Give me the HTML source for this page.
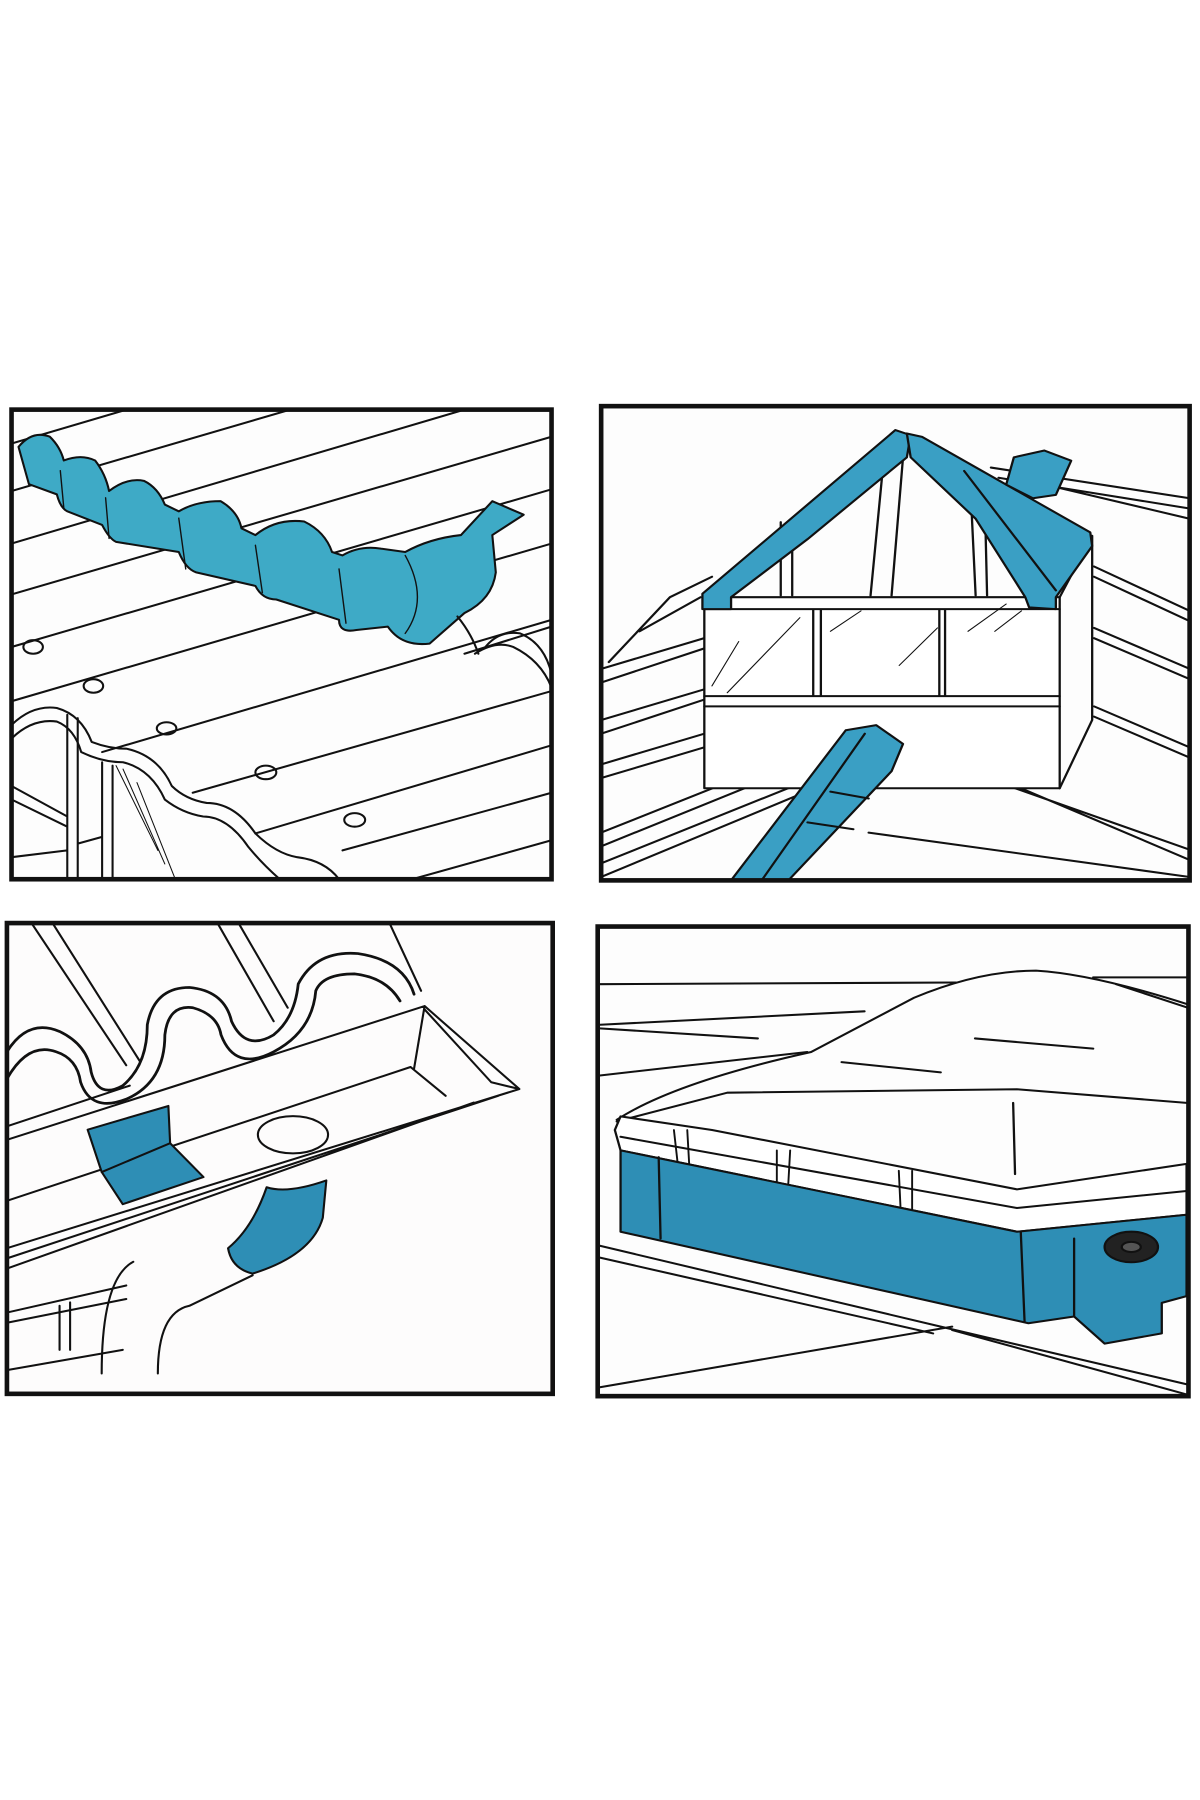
<!DOCTYPE html>
<html><head><meta charset="utf-8"><style>
html,body{margin:0;padding:0;background:#fff;width:1200px;height:1800px;overflow:hidden}
svg{display:block}
</style></head><body>
<svg width="1200" height="1800" viewBox="0 0 1040 1560" xmlns="http://www.w3.org/2000/svg">
<rect width="1040" height="1560" fill="#fff"/>

<!-- Panel 1 -->
<svg x="10" y="355" width="468" height="407" viewBox="0 0 1550 1385" preserveAspectRatio="none">
<rect width="1550" height="1385" fill="#fdfdfd"/>
<g fill="none" stroke="#111" stroke-width="6" stroke-linejoin="round" stroke-linecap="round">
<path d="M0,100 L330,0 M0,240 L800,0 M0,395 L1300,0 M0,545 L1550,80 M0,700 L1550,235 M0,860 L1550,395 M260,1010 L1550,620 M1300,720 L1550,640 M520,1130 L1550,830 M700,1250 L1550,990 M950,1300 L1550,1130 M1150,1385 L1550,1270"/>
<path fill="#3eaac6" d="M20,110 Q60,60 110,80 Q140,110 150,150 Q200,130 240,150 Q270,190 280,240 Q330,200 380,210 Q420,230 440,280 L480,300 Q530,270 600,270 Q650,300 660,350 L700,370 Q760,320 840,330 Q900,360 920,420 L950,430 Q1000,400 1060,410 L1130,420 Q1200,380 1290,370 L1380,270 L1470,310 L1380,370 L1390,480 Q1380,560 1300,600 L1200,690 Q1120,700 1080,640 L990,650 Q940,660 940,620 L760,560 Q720,560 700,520 L530,480 Q500,470 480,420 L300,390 Q280,380 260,340 L160,300 Q140,290 130,250 L50,220 Z"/>
<path stroke-width="4" d="M140,180 L150,290 M270,260 L280,380 M480,320 L500,470 M700,400 L720,540 M940,470 L960,630 M1130,430 Q1200,560 1130,660"/>
<path d="M0,930 Q60,870 130,880 Q200,900 230,980 Q280,1000 330,1000 Q420,1020 460,1110 Q500,1150 560,1160 Q640,1160 700,1250 Q760,1310 820,1320 Q900,1330 940,1385"/>
<path d="M0,970 Q60,910 130,920 Q180,940 200,1010 Q260,1040 320,1040 Q400,1060 440,1150 Q490,1190 550,1200 Q620,1200 680,1290 Q720,1340 770,1385"/>
<path d="M1280,610 Q1320,660 1340,720 M1360,700 Q1400,650 1460,660 Q1530,690 1550,780 M1330,720 Q1390,680 1440,700 Q1520,740 1550,820"/>
<path d="M160,900 L160,1385 M190,910 L190,1385 M260,1040 L260,1385 M290,1050 L290,1385 M0,1110 L160,1200 M0,1150 L160,1230 M0,1320 L160,1300 M190,1280 L260,1260"/>
<path stroke-width="3" d="M300,1050 L420,1300 M320,1060 L440,1340 M360,1100 L470,1385"/>
<ellipse cx="62" cy="700" rx="28" ry="20"/><ellipse cx="235" cy="815" rx="28" ry="20"/><ellipse cx="445" cy="940" rx="28" ry="18"/><ellipse cx="730" cy="1070" rx="30" ry="20"/><ellipse cx="985" cy="1210" rx="30" ry="20"/>
</g>
</svg>
<rect x="10" y="355" width="468" height="407" fill="none" stroke="#111" stroke-width="4"/>

<!-- Panel 2 -->
<svg x="521" y="352" width="510" height="411" viewBox="0 0 1540 1390" preserveAspectRatio="none">
<rect width="1540" height="1390" fill="#fdfdfd"/>
<g fill="none" stroke="#111" stroke-width="6" stroke-linejoin="round" stroke-linecap="round">
<path d="M0,770 L270,680 M0,810 L270,710 M0,920 L270,830 M0,960 L270,860 M0,1050 L270,960 M0,1090 L270,1000 M180,560 L290,500 M20,750 L180,560 M100,660 L260,560"/>
<path d="M0,1250 L650,960 M0,1290 L640,1000 M0,1340 L600,1070 M0,1380 L580,1110 M720,940 L1540,1330 M780,1000 L1540,1300 M700,1250 L1540,1380"/>
<path d="M1020,180 L1540,270 M1040,210 L1540,300 M1200,240 L1540,330 M1290,470 L1540,600 M1290,500 L1540,630 M1290,650 L1540,770 M1290,680 L1540,800 M1290,880 L1540,1000 M1290,910 L1540,1030"/>
<path fill="#fff" d="M270,560 L1200,560 L1200,1120 L270,1120 Z"/>
<path d="M1200,560 L1285,380 L1285,920 L1200,1120 M270,595 L1200,595 M270,850 L1200,850 M270,880 L1200,880 M555,595 L555,850 M575,595 L575,850 M885,595 L885,850 M900,595 L900,850"/>
<path stroke-width="3" d="M290,820 L360,690 M330,840 L520,620 M600,660 L680,600 M780,760 L880,650 M960,660 L1060,580 M1030,660 L1100,600"/>
<path d="M470,340 L470,555 M500,340 L500,555 M740,150 L705,555 M790,150 L760,555 M970,320 L980,555 M1005,320 L1010,555"/>
<path fill="#3a9fc4" d="M265,550 L770,70 L810,85 L800,150 L540,390 L340,560 L340,595 L265,595 Z"/>
<path fill="#3a9fc4" d="M800,80 L840,90 L1280,370 L1285,410 L1190,560 L1190,595 L1120,590 L1110,560 L980,330 L810,150 Z"/>
<path d="M950,190 L1190,540"/>
<path fill="#3a9fc4" d="M1080,150 L1160,130 L1230,160 L1190,260 L1130,270 L1060,230 Z"/>
<path fill="#3a9fc4" d="M340,1390 L640,950 L720,935 L790,990 L760,1070 L490,1390 Z"/>
<path d="M420,1390 L690,960 M540,1220 L660,1240 M600,1130 L700,1150"/>
</g>
</svg>
<rect x="521" y="352" width="510" height="411" fill="none" stroke="#111" stroke-width="4"/>

<!-- Panel 3 -->
<svg x="6" y="800" width="473" height="408" viewBox="0 0 1555 1390" preserveAspectRatio="none">
<rect width="1555" height="1390" fill="#fdfcfc"/>
<g fill="none" stroke="#111" stroke-width="6" stroke-linejoin="round" stroke-linecap="round">
<path d="M70,0 L340,420 M130,0 L380,410 M600,0 L760,290 M660,0 L800,250 M1090,0 L1180,200"/>
<path stroke-width="8" d="M0,380 Q60,280 150,320 Q230,360 240,440 Q260,520 330,480 Q400,420 400,300 Q420,190 520,190 Q620,200 640,290 Q680,380 760,330 Q820,280 830,180 Q880,80 1000,90 Q1130,110 1160,210"/>
<path stroke-width="8" d="M0,460 Q60,350 140,380 Q200,400 210,470 Q240,560 340,520 Q450,470 450,330 Q460,240 530,250 Q600,270 610,330 Q650,440 760,380 Q870,320 880,200 Q900,150 990,150 Q1080,160 1120,230"/>
<path d="M0,640 L1190,245 L1460,490 L1380,470 L1190,255 M0,600 L350,480 M1150,425 L1250,510 M1190,245 L1160,430 M0,820 L1150,425 M0,960 L1460,490 M0,1020 L1330,530 M0,990 L1400,510"/>
<ellipse cx="815" cy="625" rx="100" ry="55"/>
<path fill="#2e8eb5" d="M230,610 L460,540 L465,650 L560,750 L330,830 L270,735 Z"/>
<path d="M270,735 L465,650"/>
<path fill="#2e8eb5" d="M740,780 Q800,800 910,760 L900,870 Q870,980 700,1035 Q640,1020 630,960 Q700,900 740,780 Z"/>
<path d="M270,1330 Q270,1050 360,1000 M430,1330 Q430,1150 520,1130 L700,1040 M0,1180 L340,1110 M0,1320 L330,1260 M0,1150 L340,1070 M150,1130 L150,1260 M180,1120 L180,1260"/>
</g>
</svg>
<rect x="6" y="800" width="473" height="408" fill="none" stroke="#111" stroke-width="4"/>

<!-- Panel 4 -->
<svg x="518" y="803" width="512" height="407" viewBox="0 0 1550 1385" preserveAspectRatio="none">
<rect width="1550" height="1385" fill="#fdfdfd"/>
<g fill="none" stroke="#111" stroke-width="6" stroke-linejoin="round" stroke-linecap="round">
<path d="M0,170 L940,165 M0,290 L700,250 M0,440 L550,370 M0,300 L420,330 M1300,150 L1550,150 M1360,170 L1550,240 M640,400 L900,430 M990,330 L1300,360"/>
<path d="M50,570 Q200,460 560,370 L830,210 Q1000,130 1150,130 Q1300,140 1550,230"/>
<path d="M50,575 L340,490 L1100,480 L1545,520 M1090,520 L1095,730"/>
<path fill="#fff" d="M45,600 L60,560 L300,600 L1100,775 L1545,700 L1545,850 L1100,900 L60,660 Z"/>
<path d="M60,620 L1100,830 L1545,780"/>
<path stroke-width="5" d="M200,600 L210,700 M235,600 L240,700 M470,660 L470,760 M505,660 L500,760 M790,720 L795,840 M825,720 L825,840"/>
<path fill="#2e8eb5" d="M60,660 L1100,900 L1545,850 L1545,1090 L1480,1110 L1480,1200 L1330,1230 L1250,1150 L1130,1170 L60,900 Z"/>
<path d="M160,680 L165,920 M1110,900 L1120,1165 M1250,920 L1250,1150"/>
<ellipse cx="1400" cy="945" rx="70" ry="45" fill="#222"/>
<ellipse cx="1400" cy="945" rx="25" ry="15" fill="#555"/>
<path d="M0,940 L900,1180 L1545,1350 M0,975 L880,1200 M0,1360 L930,1180 M930,1190 L1545,1380"/>
</g>
</svg>
<rect x="518" y="803" width="512" height="407" fill="none" stroke="#111" stroke-width="4"/>
</svg>
</body></html>
